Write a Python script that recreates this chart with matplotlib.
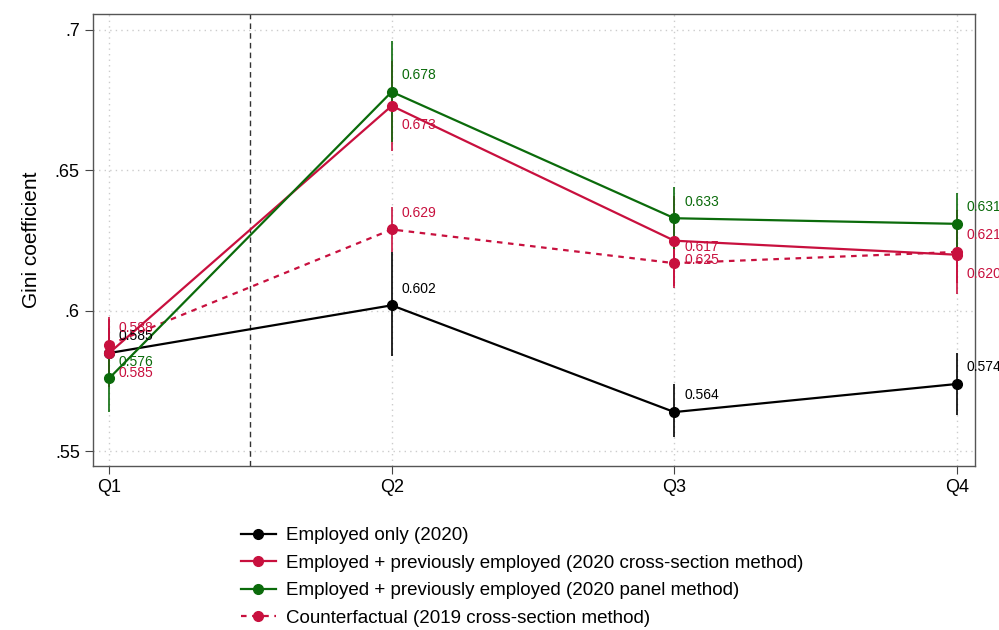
"""
Gini coefficient by quarter, 2020
"""

import matplotlib
matplotlib.use('Agg')
import matplotlib.pyplot as plt

plt.rcParams['font.family'] = ['Liberation Sans', 'DejaVu Sans']

quarters = ['Q1', 'Q2', 'Q3', 'Q4']

# valores
emp_only = [0.585, 0.602, 0.564, 0.574]
emp_only_lo = [0.576, 0.584, 0.555, 0.563]
emp_only_hi = [0.594, 0.621, 0.574, 0.585]

emp_cs = [0.585, 0.673, 0.625, 0.620]
emp_cs_lo = [0.573, 0.657, 0.609, 0.606]
emp_cs_hi = [0.597, 0.689, 0.641, 0.636]

emp_panel = [0.576, 0.678, 0.633, 0.631]
emp_panel_lo = [0.564, 0.660, 0.622, 0.620]
emp_panel_hi = [0.588, 0.696, 0.644, 0.642]

counterf = [0.588, 0.629, 0.617, 0.621]
counterf_lo = [0.578, 0.621, 0.608, 0.610]
counterf_hi = [0.598, 0.637, 0.626, 0.632]

BLACK = 'black'
RED = '#c8103e'
GREEN = '#0b6b0b'

fig = plt.figure(figsize=(9.99, 6.3), dpi=100)
ax = fig.add_axes([0.0931, 0.2603, 0.8829, 0.7175])

x = [1, 2, 3, 4]

series = [
    (emp_only, emp_only_lo, emp_only_hi, BLACK, '-', 'Employed only (2020)', 'up'),
    (counterf, counterf_lo, counterf_hi, RED, (0, (2.5, 2.5)), 'Counterfactual (2019 cross-section method)', 'up'),
    (emp_cs, emp_cs_lo, emp_cs_hi, RED, '-', 'Employed + previously employed (2020 cross-section method)', 'down'),
    (emp_panel, emp_panel_lo, emp_panel_hi, GREEN, '-', 'Employed + previously employed (2020 panel method)', 'up'),
]

handles = {}
for vals, lo, hi, col, ls, lab, pos in series:
    ax.vlines(x, lo, hi, color=col, linewidth=1.2, zorder=3)
    h, = ax.plot(x, vals, color=col, linestyle=ls, linewidth=1.6, marker='o',
                 markersize=7, label=lab, zorder=4)
    handles[lab] = h
    for xi, v in zip(x, vals):
        dy = 12 if pos == 'up' else -14
        ax.annotate(f'{v:.3f}', (xi, v), xytext=(7, dy), textcoords='offset points',
                    color=col, fontsize=10, va='center', ha='left',
                    annotation_clip=False, zorder=5)

ax.axvline(1.5, color='#333333', linestyle=(0, (4, 3)), linewidth=1)

ax.set_xlim(0.943, 4.064)
ax.set_ylim(0.5448, 0.7057)
ax.set_xticks(x)
ax.set_xticklabels(quarters)
ax.set_yticks([0.55, 0.6, 0.65, 0.7])
ax.set_yticklabels(['.55', '.6', '.65', '.7'])
ax.tick_params(labelsize=13, length=6, color='#444444')
ax.set_ylabel('Gini coefficient', fontsize=15, labelpad=10)

ax.grid(True, color='#cccccc', linestyle=(0, (1, 3)), linewidth=1)
ax.set_axisbelow(True)
for s in ax.spines.values():
    s.set_color('#555555')
    s.set_linewidth(1)

order = ['Employed only (2020)',
         'Employed + previously employed (2020 cross-section method)',
         'Employed + previously employed (2020 panel method)',
         'Counterfactual (2019 cross-section method)']
fig.legend([handles[k] for k in order], order, loc='center left',
           bbox_to_anchor=(0.224, 1 - 577 / 630), frameon=False, fontsize=13.5,
           handlelength=1.9, labelspacing=0.55, handletextpad=0.5)

plt.savefig('out.png', dpi=100)
